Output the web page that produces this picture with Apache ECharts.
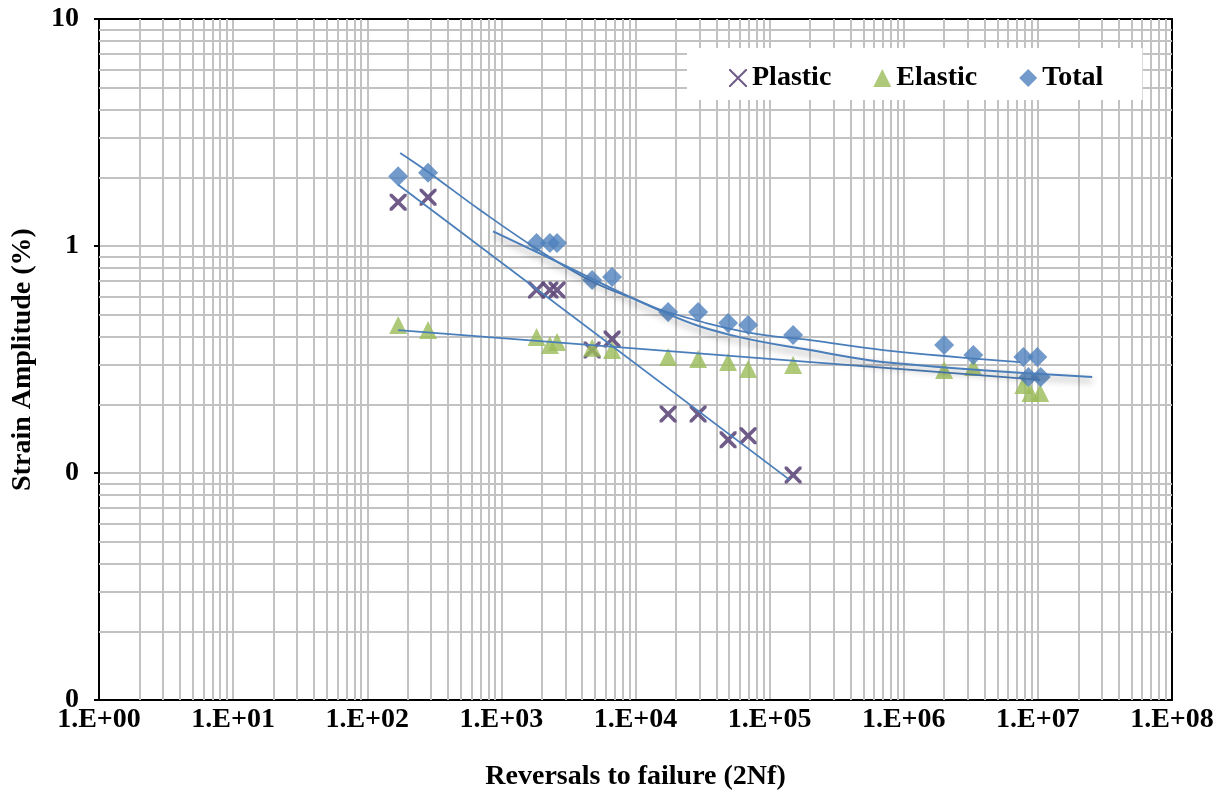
<!DOCTYPE html>
<html>
<head>
<meta charset="utf-8">
<script src="https://cdn.jsdelivr.net/npm/echarts@6/dist/echarts.min.js"></script>
<style>
html,body{margin:0;padding:0;background:#fff;}
#chart{width:1227px;height:797px;}
</style>
</head>
<body>
<div id="chart"></div>
<script>
// ---- tick labels ----
const xTickLabels = ['1.E+00','1.E+01','1.E+02','1.E+03','1.E+04','1.E+05','1.E+06','1.E+07','1.E+08'];
const yTickLabels = ['0','0','1','10']; // 0.01, 0.1, 1, 10

// ---- measured data ----
const plasticN      = [170, 284, 1830, 2300, 2600, 4750, 6690, 17500, 29300, 49000, 69100, 149700];
const plasticStrain = [1.56, 1.64, 0.64, 0.64, 0.64, 0.348, 0.389, 0.182, 0.182, 0.140, 0.146, 0.098];

const elasticN      = [170, 284, 1830, 2300, 2600, 4750, 6690, 17500, 29300, 49000, 69100, 149700, 2.0e6, 3.3e6, 7.8e6, 8.8e6, 1.04e7];
const elasticStrain = [0.449, 0.427, 0.397, 0.366, 0.378, 0.356, 0.348, 0.324, 0.318, 0.308, 0.287, 0.299, 0.284, 0.293, 0.244, 0.225, 0.225];

const totalN      = [170, 284, 1830, 2300, 2600, 4750, 6690, 17500, 29300, 49000, 69100, 149700, 2.0e6, 3.3e6, 7.8e6, 9.9e6, 8.5e6, 1.05e7];
const totalStrain = [2.03, 2.10, 1.03, 1.03, 1.03, 0.708, 0.730, 0.512, 0.512, 0.458, 0.449, 0.405, 0.366, 0.331, 0.324, 0.324, 0.265, 0.265];

// ---- trend lines ----
const plasticFitN      = [170, 142000];
const plasticFitStrain = [1.86, 0.093];
const elasticFitN      = [170, 1.04e7];
const elasticFitStrain = [0.426, 0.257];
const totalFitAN      = [176, 284, 693, 2047, 4830, 10280, 17200, 71600, 200000, 702000, 7.38e6];
const totalFitAStrain = [2.57, 2.12, 1.44, 0.931, 0.694, 0.578, 0.512, 0.414, 0.385, 0.348, 0.308];
const totalFitBN      = [867, 2047, 18100, 50700, 200000, 834000, 2.54e7];
const totalFitBStrain = [1.16, 0.912, 0.497, 0.406, 0.348, 0.305, 0.265];

function pairs(xs, ys){ return xs.map((x,i)=>[x, ys[i]]); }

// minor grid values (log subdivisions)
const xMinor = [], yMinor = [];
for (let k = 0; k < 8; k++) for (let m = 2; m <= 9; m++) xMinor.push({xAxis: m * Math.pow(10, k)});
for (let k = -2; k < 1; k++) for (let m = 2; m <= 9; m++) yMinor.push({yAxis: +(m * Math.pow(10, k)).toPrecision(6)});

const FONT = 'Liberation Serif';
const gridColor = '#c2c2c2';
const xPath = 'path://M0,0 L3,0 L10,7 L17,0 L20,0 L20,3 L13,10 L20,17 L20,20 L17,20 L10,13 L3,20 L0,20 L0,17 L7,10 L0,3 Z';
const xLegendPath = 'path://M0,0 L1.6,0 L10,8.4 L18.4,0 L20,0 L20,1.6 L11.6,10 L20,18.4 L20,20 L18.4,20 L10,11.6 L1.6,20 L0,20 L0,18.4 L8.4,10 L0,1.6 Z';
const lineBlue = '#4a7ebb';

const chart = echarts.init(document.getElementById('chart'), null, {renderer: 'canvas'});
const option = {
  animation: false,
  backgroundColor: '#fff',
  grid: {left: 99, right: 55, top: 19, bottom: 97, containLabel: false},
  legend: {
    z: 20,
    left: 687, top: 48,
    padding: [16, 39, 8, 42],
    backgroundColor: '#fff',
    itemWidth: 18, itemHeight: 18, itemGap: 42,
    textStyle: {fontFamily: FONT, fontWeight: 'bold', fontSize: 28, color: '#000'},
    data: [
      {name: 'Plastic', icon: xLegendPath},
      {name: 'Elastic', icon: 'triangle'},
      {name: 'Total', icon: 'diamond'}
    ]
  },
  xAxis: [{
    type: 'log', logBase: 10, min: 1, max: 1e8, interval: 1,
    name: 'Reversals to failure (2Nf)', nameLocation: 'middle', nameGap: 63,
    nameTextStyle: {fontFamily: FONT, fontWeight: 'bold', fontSize: 28, color: '#000'},
    axisLine: {show: true, lineStyle: {color: '#000', width: 2}},
    axisTick: {show: false},
    axisLabel: {
      margin: 6, fontFamily: FONT, fontWeight: 'bold', fontSize: 28, color: '#000',
      showMinLabel: true, showMaxLabel: true, hideOverlap: false,
      formatter: v => xTickLabels[Math.round(Math.log10(v))]
    },
    splitLine: {show: true, lineStyle: {color: gridColor, width: 2}},
    minorTick: {show: false}, minorSplitLine: {show: false}
  }, {
    type: 'log', logBase: 10, min: 1, max: 1e8, position: 'top',
    axisLine: {show: true, onZero: false, lineStyle: {color: '#000', width: 2}},
    axisTick: {show: false}, axisLabel: {show: false}, splitLine: {show: false}
  }],
  yAxis: [{
    type: 'log', logBase: 10, min: 0.01, max: 10, interval: 1,
    name: 'Strain Amplitude (%)', nameLocation: 'middle', nameGap: 62, nameRotate: 90,
    nameTextStyle: {fontFamily: FONT, fontWeight: 'bold', fontSize: 28, color: '#000'},
    axisLine: {show: true, lineStyle: {color: '#000', width: 2}},
    axisTick: {show: true, length: 5, lineStyle: {color: '#000', width: 2}},
    axisLabel: {
      margin: 20, fontFamily: FONT, fontWeight: 'bold', fontSize: 28, color: '#000',
      showMinLabel: true, showMaxLabel: true,
      formatter: v => yTickLabels[Math.round(Math.log10(v)) + 2]
    },
    splitLine: {show: true, lineStyle: {color: gridColor, width: 2}}
  }, {
    type: 'log', logBase: 10, min: 0.01, max: 10, position: 'right',
    axisLine: {show: true, onZero: false, lineStyle: {color: '#000', width: 2}},
    axisTick: {show: false}, axisLabel: {show: false}, splitLine: {show: false}
  }],
  series: [
    {
      name: 'grid-minor', type: 'line', data: [], silent: true, z: 1,
      markLine: {
        z: 1,
        silent: true, symbol: ['none', 'none'], animation: false,
        label: {show: false},
        lineStyle: {color: gridColor, width: 2, type: 'solid'},
        emphasis: {disabled: true},
        data: xMinor.concat(yMinor)
      }
    },
    {
      name: 'Plastic', type: 'scatter', z: 5,
      symbol: xPath, symbolSize: 17,
      itemStyle: {color: '#604a7b', opacity: 0.9},
      data: pairs(plasticN, plasticStrain)
    },
    {
      name: 'Elastic', type: 'scatter', z: 5,
      symbol: 'triangle', symbolSize: [18, 18],
      itemStyle: {color: '#9bbb59'},
      data: pairs(elasticN, elasticStrain)
    },
    {
      name: 'Total', type: 'scatter', z: 5,
      symbol: 'diamond', symbolSize: [20, 20],
      itemStyle: {color: '#4f81bd'},
      data: pairs(totalN, totalStrain)
    },
    {
      name: 'plastic-fit', type: 'line', z: 6, symbol: 'none', silent: true,
      lineStyle: {color: lineBlue, width: 1.8},
      data: pairs(plasticFitN, plasticFitStrain)
    },
    {
      name: 'elastic-fit', type: 'line', z: 6, symbol: 'none', silent: true,
      lineStyle: {color: lineBlue, width: 1.8},
      data: pairs(elasticFitN, elasticFitStrain)
    },
    {
      name: 'total-fit-a', type: 'line', z: 6, symbol: 'none', silent: true, smooth: 0.4,
      lineStyle: {color: lineBlue, width: 1.8},
      data: pairs(totalFitAN, totalFitAStrain)
    },
    {
      name: 'total-fit-b', type: 'line', z: 6, symbol: 'none', silent: true, smooth: 0.4,
      lineStyle: {color: lineBlue, width: 2, shadowColor: 'rgba(0,0,0,0.45)', shadowBlur: 7, shadowOffsetY: 4},
      data: pairs(totalFitBN, totalFitBStrain)
    }
  ]
};
chart.setOption(option);
</script>
</body>
</html>
